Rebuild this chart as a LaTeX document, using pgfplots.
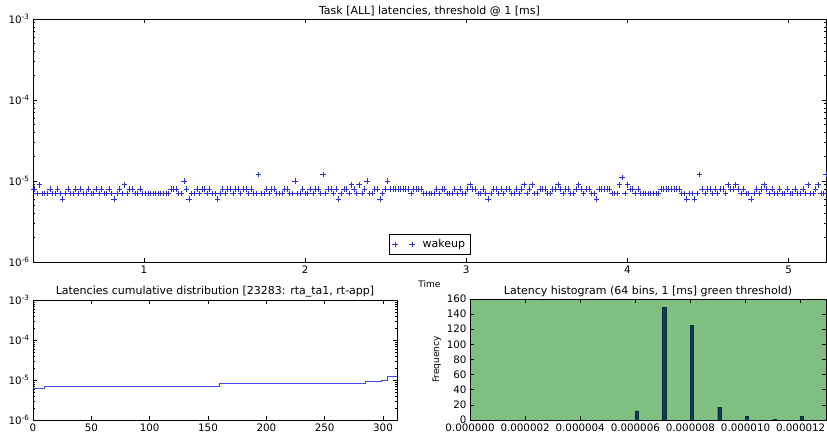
\documentclass[border=0pt]{standalone}
\usepackage{fontspec}
\setmainfont{DejaVu Sans}
\usepackage{pgfplots}
\pgfplotsset{compat=1.18}
\definecolor{wake}{RGB}{45,45,225}
\definecolor{cdf}{RGB}{70,70,240}
\definecolor{thr}{RGB}{127,191,127}
\definecolor{histbar}{RGB}{12,62,90}

\pgfplotsset{
  every axis/.append style={
    scale only axis,
    axis line style={line width=0.8pt},
    tick align=inside,
    tick style={black, line width=0.5pt},
    major tick length=4pt,
    minor tick length=2pt,
    tick label style={font=\fontsize{10.3}{11}\selectfont},
    title style={font=\fontsize{11}{12}\selectfont, yshift=-7pt},
  },
}

\begin{document}
\begin{tikzpicture}
\path[use as bounding box] (0,0) rectangle (827pt,433pt);

% top: latencies over time
\begin{axis}[
  at={(33pt,171pt)}, anchor=south west,
  width=793pt, height=243pt,
  ymode=log, ymin=1e-6, ymax=1e-3,
  ytick={1e-6,1e-5,1e-4,1e-3},
  yticklabels={10\textsuperscript{-6},10\textsuperscript{-5},10\textsuperscript{-4},10\textsuperscript{-3}},
  xmin=0.312, xmax=5.232,
  xtick={1,2,3,4,5},
  xticklabels={1,2,3,4,5},
  xlabel={Time},
  xlabel style={font=\fontsize{9}{10}\selectfont, yshift=0pt},
  title={Task [ALL] latencies, threshold @ 1 [ms]},
  legend style={at={(0.5,0.03)}, anchor=south, draw=black, line width=0.6pt,
    font=\fontsize{11}{12}\selectfont, inner xsep=3pt, inner ysep=3pt},
  legend image code/.code={%
    \draw[#1] plot[only marks] coordinates {(0pt,0pt) (17pt,0pt)};},
]
\addplot[only marks, mark=+, mark size=2.8pt, wake, line width=0.5pt] coordinates {
(0.320,8e-6) (0.336,7e-6) (0.352,9e-6) (0.368,7e-6) (0.384,7e-6) (0.400,7e-6) (0.416,8e-6) (0.432,7e-6) (0.448,7e-6) (0.464,8e-6)
(0.480,7e-6) (0.496,6e-6) (0.512,7e-6) (0.528,8e-6) (0.544,7e-6) (0.560,7e-6) (0.576,8e-6) (0.592,7e-6) (0.608,8e-6) (0.624,7e-6)
(0.640,7e-6) (0.656,8e-6) (0.672,7e-6) (0.688,7e-6) (0.704,8e-6) (0.720,7e-6) (0.736,8e-6) (0.752,7e-6) (0.768,7e-6) (0.784,8e-6)
(0.800,7e-6) (0.816,6e-6) (0.832,7e-6) (0.848,8e-6) (0.864,7e-6) (0.880,9e-6) (0.896,7e-6) (0.912,8e-6) (0.928,8e-6) (0.944,7e-6)
(0.960,7e-6) (0.976,8e-6) (0.992,7e-6) (1.008,7e-6) (1.024,7e-6) (1.040,7e-6) (1.056,7e-6) (1.072,7e-6) (1.088,7e-6) (1.104,7e-6)
(1.120,7e-6) (1.136,7e-6) (1.152,7e-6) (1.168,8e-6) (1.184,8e-6) (1.200,8e-6) (1.216,7e-6) (1.232,7e-6) (1.248,10e-6) (1.264,8e-6)
(1.280,6e-6) (1.296,7e-6) (1.312,7e-6) (1.328,8e-6) (1.344,7e-6) (1.360,8e-6) (1.376,8e-6) (1.392,7e-6) (1.408,8e-6) (1.424,7e-6)
(1.440,7e-6) (1.456,6e-6) (1.472,7e-6) (1.488,8e-6) (1.504,7e-6) (1.520,8e-6) (1.536,8e-6) (1.552,7e-6) (1.568,8e-6) (1.584,8e-6)
(1.600,7e-6) (1.616,8e-6) (1.632,8e-6) (1.648,7e-6) (1.664,8e-6) (1.680,7e-6) (1.696,7e-6) (1.712,12e-6) (1.728,7e-6) (1.744,7e-6)
(1.760,8e-6) (1.776,7e-6) (1.792,8e-6) (1.808,8e-6) (1.824,7e-6) (1.840,7e-6) (1.856,7e-6) (1.872,8e-6) (1.888,8e-6) (1.904,7e-6)
(1.920,7e-6) (1.936,10e-6) (1.952,7e-6) (1.968,7e-6) (1.984,8e-6) (2.000,7e-6) (2.016,7e-6) (2.032,8e-6) (2.048,7e-6) (2.064,8e-6)
(2.080,8e-6) (2.096,7e-6) (2.112,12e-6) (2.128,7e-6) (2.144,8e-6) (2.160,8e-6) (2.176,7e-6) (2.192,8e-6) (2.208,6e-6) (2.224,7e-6)
(2.240,8e-6) (2.256,8e-6) (2.272,7e-6) (2.288,9e-6) (2.304,8e-6) (2.320,7e-6) (2.336,9e-6) (2.352,7e-6) (2.368,8e-6) (2.384,10e-6)
(2.400,7e-6) (2.416,7e-6) (2.432,8e-6) (2.448,8e-6) (2.464,6e-6) (2.480,7e-6) (2.496,8e-6) (2.512,10e-6) (2.528,8e-6) (2.544,8e-6)
(2.560,8e-6) (2.576,8e-6) (2.592,8e-6) (2.608,8e-6) (2.624,8e-6) (2.640,8e-6) (2.656,7e-6) (2.672,8e-6) (2.688,8e-6) (2.704,8e-6)
(2.720,8e-6) (2.736,7e-6) (2.752,7e-6) (2.768,7e-6) (2.784,7e-6) (2.800,7e-6) (2.816,8e-6) (2.832,7e-6) (2.848,8e-6) (2.864,8e-6)
(2.880,7e-6) (2.896,7e-6) (2.912,7e-6) (2.928,8e-6) (2.944,7e-6) (2.960,8e-6) (2.976,7e-6) (2.992,7e-6) (3.008,8e-6) (3.024,9e-6)
(3.040,8e-6) (3.056,8e-6) (3.072,7e-6) (3.088,7e-6) (3.104,8e-6) (3.120,7e-6) (3.136,6e-6) (3.152,7e-6) (3.168,8e-6) (3.184,8e-6)
(3.200,7e-6) (3.216,8e-6) (3.232,7e-6) (3.248,8e-6) (3.264,8e-6) (3.280,7e-6) (3.296,7e-6) (3.312,8e-6) (3.328,7e-6) (3.344,8e-6)
(3.360,9e-6) (3.376,7e-6) (3.392,8e-6) (3.408,9e-6) (3.424,7e-6) (3.440,7e-6) (3.456,8e-6) (3.472,8e-6) (3.488,8e-6) (3.504,7e-6)
(3.520,7e-6) (3.536,8e-6) (3.552,8e-6) (3.568,9e-6) (3.584,8e-6) (3.600,7e-6) (3.616,8e-6) (3.632,8e-6) (3.648,7e-6) (3.664,7e-6)
(3.680,8e-6) (3.696,9e-6) (3.712,8e-6) (3.728,7e-6) (3.744,8e-6) (3.760,8e-6) (3.776,7e-6) (3.792,7e-6) (3.808,6e-6) (3.824,8e-6)
(3.840,8e-6) (3.856,8e-6) (3.872,8e-6) (3.888,8e-6) (3.904,7e-6) (3.920,7e-6) (3.936,7e-6) (3.952,9e-6) (3.968,11e-6) (3.984,7e-6)
(4.000,9e-6) (4.016,8e-6) (4.032,8e-6) (4.048,7e-6) (4.064,8e-6) (4.080,7e-6) (4.096,7e-6) (4.112,7e-6) (4.128,7e-6) (4.144,7e-6)
(4.160,7e-6) (4.176,7e-6) (4.192,7e-6) (4.208,8e-6) (4.224,8e-6) (4.240,8e-6) (4.256,8e-6) (4.272,8e-6) (4.288,8e-6) (4.304,8e-6)
(4.320,8e-6) (4.336,7e-6) (4.352,7e-6) (4.368,6e-6) (4.384,7e-6) (4.400,7e-6) (4.416,6e-6) (4.432,7e-6) (4.448,12e-6) (4.464,8e-6)
(4.480,7e-6) (4.496,8e-6) (4.512,8e-6) (4.528,7e-6) (4.544,8e-6) (4.560,7e-6) (4.576,8e-6) (4.592,8e-6) (4.608,7e-6) (4.624,9e-6)
(4.640,8e-6) (4.656,8e-6) (4.672,9e-6) (4.688,8e-6) (4.704,7e-6) (4.720,8e-6) (4.736,7e-6) (4.752,7e-6) (4.768,6e-6) (4.784,7e-6)
(4.800,8e-6) (4.816,7e-6) (4.832,8e-6) (4.848,9e-6) (4.864,8e-6) (4.880,7e-6) (4.896,8e-6) (4.912,7e-6) (4.928,7e-6) (4.944,8e-6)
(4.960,7e-6) (4.976,7e-6) (4.992,8e-6) (5.008,7e-6) (5.024,7e-6) (5.040,8e-6) (5.056,7e-6) (5.072,7e-6) (5.088,8e-6) (5.104,7e-6)
(5.120,9e-6) (5.136,7e-6) (5.152,7e-6) (5.168,8e-6) (5.184,9e-6) (5.200,7e-6) (5.216,7e-6) (5.232,12e-6)
};
\legend{\hspace{6pt}wakeup}
\end{axis}

% bottom left: cumulative distribution
\begin{axis}[
  at={(33pt,13pt)}, anchor=south west,
  width=364pt, height=120pt,
  ymode=log, ymin=1e-6, ymax=1e-3,
  ytick={1e-6,1e-5,1e-4,1e-3},
  yticklabels={10\textsuperscript{-6},10\textsuperscript{-5},10\textsuperscript{-4},10\textsuperscript{-3}},
  xmin=0, xmax=312,
  xtick={0,50,100,150,200,250,300},
  xticklabels={0,50,100,150,200,250,300},
  title={Latencies cumulative distribution [23283: rta\_ta1, rt-app]},
]
\addplot[cdf, line width=1pt, const plot] coordinates {
(0,6e-6) (10,7e-6) (160,8e-6) (285,9e-6) (299,1e-5) (304,1.2e-5) (312,1.2e-5)
};
\end{axis}

% bottom right: histogram
\begin{axis}[
  at={(470pt,13pt)}, anchor=south west,
  width=356pt, height=121pt,
  xmin=0, xmax=12.92,
  ymin=0, ymax=160,
  ytick={0,20,40,60,80,100,120,140,160},
  yticklabels={0,20,40,60,80,100,120,140,160},
  xtick={0,2,4,6,8,10,12},
  xticklabels={0.000000,0.000002,0.000004,0.000006,0.000008,0.000010,0.000012},
  axis background/.style={fill=thr},
  ylabel={Frequency},
  ylabel style={font=\fontsize{9}{10}\selectfont, yshift=-1pt},
  title={Latency histogram (64 bins, 1 [ms] green threshold)},
]
\addplot[ybar, bar width=0.12, bar shift=0pt, fill=histbar, draw=histbar!70!black, line width=0.4pt] coordinates {
(6.05,12) (7.05,149) (8.05,125) (9.05,17) (10.05,5) (11.05,1) (12.05,5)
};
\end{axis}
\end{tikzpicture}
\end{document}
